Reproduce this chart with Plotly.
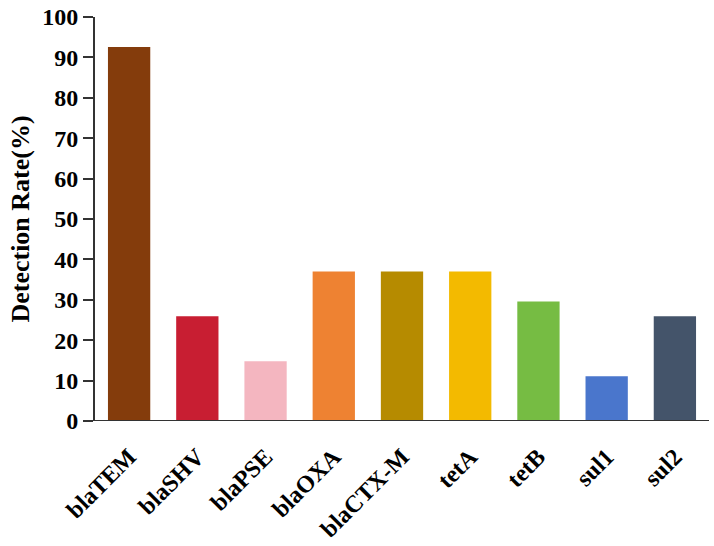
import plotly.graph_objects as go

genes = ["blaTEM", "blaSHV", "blaPSE", "blaOXA", "blaCTX-M", "tetA", "tetB", "sul1", "sul2"]
rates = [92.6, 25.9, 14.8, 37.0, 37.0, 37.0, 29.6, 11.1, 25.9]
colors = ["#843C0C", "#C81E32", "#F4B6C0", "#EE8232", "#B68B00", "#F3BA00", "#76BC43", "#4A76CC", "#44546A"]
y_ticks = list(range(0, 101, 10))

font_family = "Liberation Serif"

fig = go.Figure(
    go.Bar(
        x=genes,
        y=rates,
        marker=dict(color=colors, line=dict(width=0)),
        hoverinfo="x+y",
    )
)

fig.update_layout(
    width=714,
    height=546,
    margin=dict(l=95, r=5, t=17, b=125),
    plot_bgcolor="white",
    paper_bgcolor="white",
    bargap=0.38,
    showlegend=False,
    font=dict(family=font_family, size=24, color="black"),
)

fig.update_xaxes(
    tickangle=-45,
    tickfont=dict(family=font_family, size=24, color="black", weight="bold"),
    showline=False,
    ticks="",
    ticklabelstandoff=16,
    ticklabeloverflow="allow",
    showgrid=False,
    automargin=False,
)

fig.update_yaxes(
    range=[0, 100],
    tickvals=y_ticks,
    ticktext=[str(v) for v in y_ticks],
    tickfont=dict(family=font_family, size=24, color="black", weight="bold"),
    ticks="outside",
    ticklen=10,
    tickwidth=2,
    tickcolor="#333333",
    ticklabelstandoff=0,
    ticklabeloverflow="allow",
    showline=True,
    linecolor="#333333",
    linewidth=2,
    showgrid=False,
    zeroline=False,
    automargin=False,
    title=dict(text="Detection Rate(%)", font=dict(family=font_family, size=26, color="black", weight="bold"), standoff=5),
)

# x axis baseline extending slightly left of the y axis
fig.add_shape(
    type="line", xref="paper", yref="y",
    x0=-10 / 614, x1=1, y0=0, y1=0,
    line=dict(color="#333333", width=2),
)

fig.write_html(
    "out.html",
    config={"displayModeBar": False},
    post_script="document.body.style.margin='0px';document.body.style.overflow='hidden';",
)
